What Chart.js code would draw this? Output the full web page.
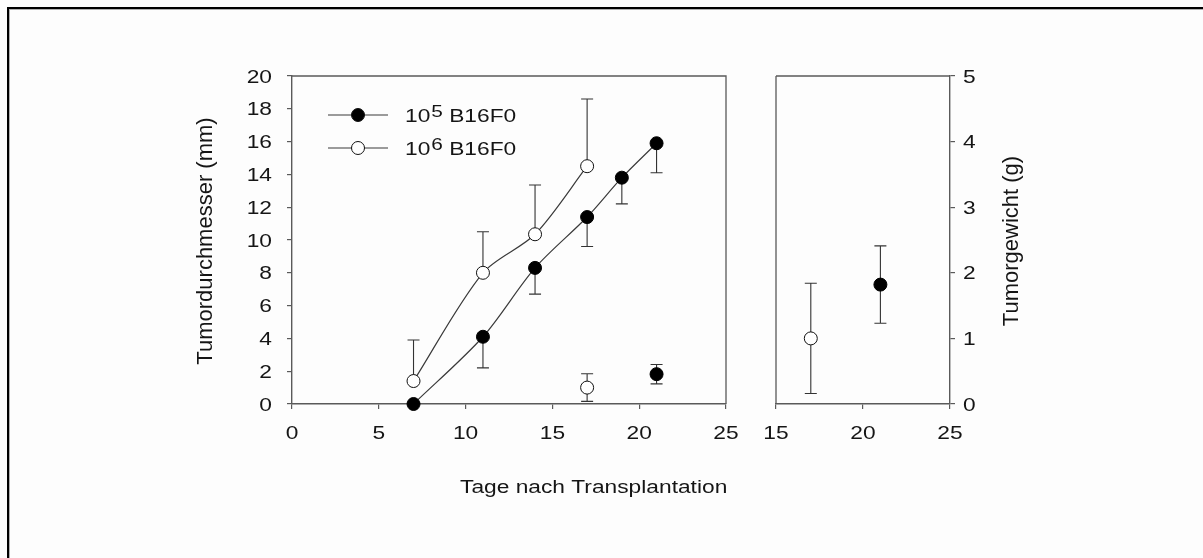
<!DOCTYPE html>
<html>
<head>
<meta charset="utf-8">
<script src="https://cdn.jsdelivr.net/npm/chart.js@4.4.1/dist/chart.umd.min.js"></script>
<style>
  html, body { margin: 0; padding: 0; background: #fdfdfd; }
  #wrap { position: relative; width: 1203px; height: 558px; overflow: hidden; background: #fdfdfd; }
  #frame { position: absolute; left: 7px; top: 7px; right: -10px; bottom: -10px;
           border-top: 2px solid #000; border-left: 2px solid #000; }
  #frameInner { position: absolute; left: 0; top: 0; right: 0; bottom: 0;
           border-top: 1px solid #b0b0b0; border-left: 1px solid #b0b0b0; }
  canvas { position: absolute; top: 0; }
  #cLeft { left: 0; }
  #cRight { left: 740px; }
</style>
</head>
<body>
<div id="wrap">
  <div id="frame"><div id="frameInner"></div></div>
  <canvas id="cLeft" width="760" height="558"></canvas>
  <canvas id="cRight" width="463" height="558"></canvas>
</div>
<script>
// Tumour diameter over time, 10^5 cells (mean, SD drawn downward)
const daysLow = [7, 11, 14, 17, 19, 21];
const diamLow = [0, 4.1, 8.3, 11.4, 13.8, 15.9];
const sdLow   = [0, 1.9, 1.6, 1.8, 1.6, 1.8];

// Tumour diameter over time, 10^6 cells (mean, SD drawn upward)
const daysHigh = [7, 11, 14, 17];
const diamHigh = [1.4, 8.0, 10.35, 14.5];
const sdHigh   = [2.5, 2.5, 3.0, 4.1];

// Tumour weight at end point (g)
const weightDayHigh = [17];
const weightHigh    = [1.0];
const weightSdHigh  = [0.84];
const weightDayLow  = [21];
const weightLow     = [1.82];
const weightSdLow   = [0.59];

// Axis ticks
const diamTicks   = [0, 2, 4, 6, 8, 10, 12, 14, 16, 18, 20];
const dayTicksA   = [0, 5, 10, 15, 20, 25];
const dayTicksB   = [15, 20, 25];
const weightTicks = [0, 1, 2, 3, 4, 5];

const legendItems = [
  { base: '10', sup: '5', rest: ' B16F0', fill: '#000' },
  { base: '10', sup: '6', rest: ' B16F0', fill: '#fff' }
];
const xTitleText = 'Tage nach Transplantation';
const yTitleLeft = 'Tumordurchmesser (mm)';
const yTitleRight = 'Tumorgewicht (g)';

const FONT = '"Liberation Sans", Arial, sans-serif';
const AXIS_COL = '#5a5a5a';
const LINE_COL = '#3a3a3a';
const TEXT_COL = '#151515';
const WIDE = 1.3;   // horizontal widening of the label lettering

const pts = (xs, ys) => xs.map((x, i) => ({ x: x, y: ys[i] }));

// text drawn with widened letter shapes
function wideText(ctx, text, x, y, size, align, baseline) {
  ctx.save();
  ctx.translate(x, y);
  ctx.scale(WIDE, 1);
  ctx.font = size + 'px ' + FONT;
  ctx.fillStyle = TEXT_COL;
  ctx.textAlign = align || 'left';
  ctx.textBaseline = baseline || 'alphabetic';
  ctx.fillText(text, 0, 0);
  const w = ctx.measureText(text).width * WIDE;
  ctx.restore();
  return w;
}

// draw SD whiskers with caps, behind the markers
const errorBars = {
  id: 'errorBars',
  beforeDatasetsDraw(chart) {
    const ctx = chart.ctx;
    const xs = chart.scales.x, ys = chart.scales.y;
    ctx.save();
    ctx.strokeStyle = '#333';
    ctx.lineWidth = 1.1;
    chart.data.datasets.forEach(ds => {
      if (!ds.sd) return;
      ds.data.forEach((p, i) => {
        const s = ds.sd[i];
        if (!s) return;
        const px = xs.getPixelForValue(p.x);
        const py = ys.getPixelForValue(p.y);
        const ends = [];
        if (ds.sdUp) ends.push(p.y + s);
        if (ds.sdDown) ends.push(p.y - s);
        ends.forEach(v => {
          const pe = ys.getPixelForValue(v);
          ctx.beginPath();
          ctx.moveTo(px, py); ctx.lineTo(px, pe);
          ctx.moveTo(px - 6, pe); ctx.lineTo(px + 6, pe);
          ctx.stroke();
        });
      });
    });
    ctx.restore();
  }
};

// close the plot box on the remaining sides
const plotBox = {
  id: 'plotBox',
  afterDraw(chart, args, opts) {
    const a = chart.chartArea, ctx = chart.ctx;
    ctx.save();
    ctx.strokeStyle = AXIS_COL;
    ctx.lineWidth = 1.3;
    ctx.beginPath();
    ctx.moveTo(a.left, a.top); ctx.lineTo(a.right, a.top);
    if (opts.side === 'right') { ctx.lineTo(a.right, a.bottom); }
    else { ctx.moveTo(a.left, a.top); ctx.lineTo(a.left, a.bottom); }
    ctx.stroke();
    ctx.restore();
  }
};

// tick labels placed from the chart's own scales
const tickLabels = {
  id: 'tickLabels',
  afterDraw(chart) {
    const a = chart.chartArea, ctx = chart.ctx;
    Object.values(chart.scales).forEach(s => {
      s.ticks.forEach(t => {
        const p = s.getPixelForValue(t.value);
        const txt = String(t.value);
        if (s.isHorizontal()) {
          wideText(ctx, txt, p, a.bottom + 35, 17.5, 'center', 'alphabetic');
        } else if (s.position === 'left') {
          wideText(ctx, txt, a.left - 20, p + 6.5, 17.5, 'right', 'alphabetic');
        } else {
          wideText(ctx, txt, a.right + 13, p + 6.5, 17.5, 'left', 'alphabetic');
        }
      });
    });
  }
};

// in-plot legend: line with marker, then label with superscript exponent
const innerLegend = {
  id: 'innerLegend',
  afterDraw(chart) {
    const a = chart.chartArea, ctx = chart.ctx;
    ctx.save();
    legendItems.forEach((it, i) => {
      const y = a.top + 39 + i * 33;
      const x0 = a.left + 36;
      ctx.strokeStyle = LINE_COL; ctx.lineWidth = 1.2;
      ctx.beginPath(); ctx.moveTo(x0, y); ctx.lineTo(x0 + 60, y); ctx.stroke();
      ctx.beginPath(); ctx.arc(x0 + 30, y, 6.5, 0, Math.PI * 2);
      ctx.fillStyle = it.fill; ctx.fill();
      ctx.strokeStyle = '#111'; ctx.lineWidth = 1; ctx.stroke();
      let tx = x0 + 77;
      tx += wideText(ctx, it.base, tx, y + 7, 17.5) + 1;
      tx += wideText(ctx, it.sup, tx, y + 2, 16);
      wideText(ctx, it.rest, tx, y + 7, 17.5);
    });
    ctx.restore();
  }
};

// common x-axis title under the left panel
const bottomTitle = {
  id: 'bottomTitle',
  afterDraw(chart) {
    const a = chart.chartArea;
    wideText(chart.ctx, xTitleText, a.left + 168, a.bottom + 89, 17.5, 'left', 'alphabetic');
  }
};

// vertical axis titles, reading bottom to top; x gives the text baseline
function sideTitle(id, text, side, offset, size) {
  return {
    id: id,
    afterDraw(chart) {
      const a = chart.chartArea, ctx = chart.ctx;
      ctx.save();
      const x = side === 'left' ? a.left - offset : a.right + offset;
      ctx.translate(x, (a.top + a.bottom) / 2 + 1);
      ctx.rotate(-Math.PI / 2);
      ctx.font = size + 'px ' + FONT;
      ctx.fillStyle = TEXT_COL;
      ctx.textAlign = 'center';
      ctx.textBaseline = 'alphabetic';
      ctx.fillText(text, 0, 0);
      ctx.restore();
    }
  };
}

function axisBase(min, max, tickList) {
  return {
    type: 'linear', min: min, max: max,
    afterBuildTicks: s => { s.ticks = tickList.map(v => ({ value: v })); },
    grid: { drawOnChartArea: false, drawTicks: true, tickLength: 5, color: AXIS_COL, lineWidth: 1.2 },
    border: { display: true, color: AXIS_COL, width: 1.4 },
    ticks: { display: false }
  };
}

const markerLow  = { pointRadius: 6.5, pointBackgroundColor: '#000', pointBorderColor: '#000', pointBorderWidth: 1 };
const markerHigh = { pointRadius: 6.5, pointBackgroundColor: '#fff', pointBorderColor: '#111', pointBorderWidth: 1 };

// Left panel: diameter curves
const xA = axisBase(0, 25, dayTicksA);
xA.afterFit = s => { s.height = 50; };
const yA = axisBase(0, 20, diamTicks);
yA.afterFit = s => { s.width = 102; };

new Chart(document.getElementById('cLeft'), {
  type: 'line',
  data: {
    datasets: [
      Object.assign({ data: pts(daysLow, diamLow), sd: sdLow, sdDown: true, borderColor: LINE_COL, borderWidth: 1.2, tension: 0.3, clip: false }, markerLow),
      Object.assign({ data: pts(daysHigh, diamHigh), sd: sdHigh, sdUp: true, borderColor: LINE_COL, borderWidth: 1.2, tension: 0.3, clip: false }, markerHigh),
      Object.assign({ data: pts(weightDayHigh, weightHigh), sd: weightSdHigh, sdUp: true, sdDown: true, showLine: false, clip: false }, markerHigh),
      Object.assign({ data: pts(weightDayLow, weightLow), sd: weightSdLow, sdUp: true, sdDown: true, showLine: false, clip: false }, markerLow)
    ]
  },
  options: {
    responsive: false, animation: false, devicePixelRatio: 1,
    layout: { padding: { left: 190, top: 76, right: 34, bottom: 104 } },
    scales: { x: xA, y: yA },
    plugins: { legend: { display: false }, tooltip: { enabled: false }, plotBox: { side: 'right' } }
  },
  plugins: [errorBars, plotBox, tickLabels, innerLegend, bottomTitle, sideTitle('titleL', yTitleLeft, 'left', 80, 22)]
});

// Right panel: end-point weights
const xB = axisBase(15, 25, dayTicksB);
xB.afterFit = s => { s.height = 50; };
const yB = axisBase(0, 5, weightTicks);
yB.position = 'right';
yB.afterFit = s => { s.width = 90; };

new Chart(document.getElementById('cRight'), {
  type: 'line',
  data: {
    datasets: [
      Object.assign({ data: pts(weightDayHigh, weightHigh), sd: weightSdHigh, sdUp: true, sdDown: true, showLine: false, clip: false }, markerHigh),
      Object.assign({ data: pts(weightDayLow, weightLow), sd: weightSdLow, sdUp: true, sdDown: true, showLine: false, clip: false }, markerLow)
    ]
  },
  options: {
    responsive: false, animation: false, devicePixelRatio: 1,
    layout: { padding: { left: 36, top: 76, right: 163, bottom: 104 } },
    scales: { x: xB, y: yB },
    plugins: { legend: { display: false }, tooltip: { enabled: false }, plotBox: { side: 'left' } }
  },
  plugins: [errorBars, plotBox, tickLabels, sideTitle('titleR', yTitleRight, 'right', 68, 22)]
});
</script>
</body>
</html>
